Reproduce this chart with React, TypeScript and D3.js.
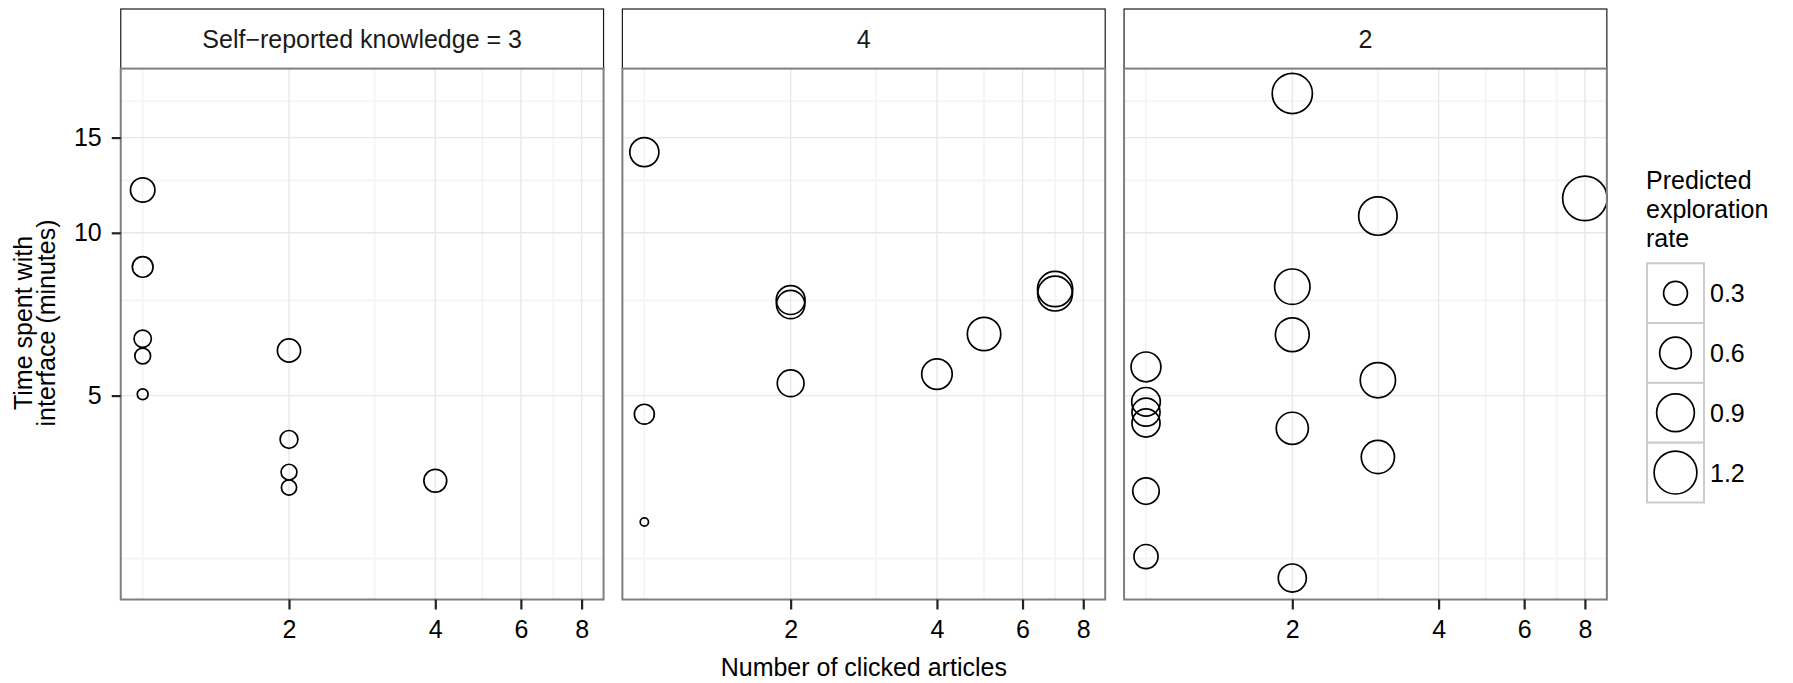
import React, { useEffect, useRef } from "react";
import * as d3 from "d3";

// facet labels (self-reported knowledge)
const facetLabels = ["Self\u2212reported knowledge = 3", "4", "2"];

// knowledge = 3
const clicksK3 = [1, 1, 1, 1, 1, 2, 2, 2, 2, 4];
const timeK3 = [12.0, 8.65, 6.37, 5.92, 5.03, 6.06, 4.15, 3.61, 3.38, 3.48];
const rateK3 = [0.32, 0.21, 0.13, 0.1, 0.03, 0.28, 0.14, 0.1, 0.09, 0.27];

// knowledge = 4
const clicksK4 = [1, 1, 1, 2, 2, 2, 4, 5, 7, 7];
const timeK4 = [14.1, 4.62, 2.92, 7.51, 7.37, 5.27, 5.48, 6.5, 7.87, 7.72];
const rateK4 = [0.49, 0.19, 0.01, 0.48, 0.46, 0.4, 0.55, 0.68, 0.77, 0.75];

// knowledge = 2
const clicksK2 = [2, 8, 3, 2, 2, 1, 1, 1, 1, 1, 1, 2, 2, 3, 3];
const timeK2 = [18.1, 11.58, 10.74, 7.95, 6.48, 5.65, 4.87, 4.66, 4.45, 3.33, 2.52, 4.35, 2.3, 5.34, 3.85];
const rateK2 = [1.04, 1.31, 0.94, 0.78, 0.7, 0.52, 0.47, 0.45, 0.45, 0.39, 0.31, 0.62, 0.45, 0.77, 0.67];

const xTicks = [2, 4, 6, 8];
const xMinor = [1, 3, 5, 7];
const yTicks = [5, 10, 15];
const yMinor = [2.5, 7.5, 12.5, 17.5];
const legendRates = [0.3, 0.6, 0.9, 1.2];
const legendTitle = ["Predicted", "exploration", "rate"];
const yTitle = ["Time spent with", "interface (minutes)"];

const FONT = "'Liberation Sans', Arial, Helvetica, sans-serif";

export default function App() {
  const ref = useRef<SVGSVGElement | null>(null);

  useEffect(() => {
    const width = 1793;
    const height = 683;
    const svg = d3.select(ref.current);
    svg.selectAll("*").remove();

    svg.append("rect").attr("width", width).attr("height", height).attr("fill", "white");

    const panelW = 482.8;
    const panelStep = 501.65;
    const panelLeft = 120.75;
    const panelTop = 68.6;
    const panelBottom = 599.5;
    const stripTop = 9;

    const x = d3.scaleLog()
      .domain([Math.pow(2, -0.15), Math.pow(2, 3.15)])
      .range([0, panelW]);
    const y = d3.scaleLog()
      .domain([2.099, 20.12])
      .range([panelBottom, panelTop]);
    const r = d3.scaleSqrt().domain([0, 1]).range([2.4, 19.75]);

    const facets = [
      { label: facetLabels[0], clicks: clicksK3, time: timeK3, rate: rateK3 },
      { label: facetLabels[1], clicks: clicksK4, time: timeK4, rate: rateK4 },
      { label: facetLabels[2], clicks: clicksK2, time: timeK2, rate: rateK2 }
    ];

    facets.forEach((f, i) => {
      const g = svg.append("g")
        .attr("transform", `translate(${panelLeft + i * panelStep},0)`);

      // strip
      g.append("rect")
        .attr("x", 0)
        .attr("y", stripTop)
        .attr("width", panelW)
        .attr("height", panelTop - stripTop)
        .attr("fill", "white")
        .attr("stroke", "#1a1a1a")
        .attr("stroke-width", 1.2);

      g.append("text")
        .attr("x", panelW / 2)
        .attr("y", 47.5)
        .attr("text-anchor", "middle")
        .attr("font-family", FONT)
        .attr("font-size", 25)
        .attr("fill", "#1a1a1a")
        .text(f.label);

      // grid
      g.append("rect")
        .attr("x", 0).attr("y", panelTop)
        .attr("width", panelW).attr("height", panelBottom - panelTop)
        .attr("fill", "white");

      g.selectAll("line.xminor").data(xMinor).join("line")
        .attr("x1", d => x(d)).attr("x2", d => x(d))
        .attr("y1", panelTop).attr("y2", panelBottom)
        .attr("stroke", "#f5f5f5").attr("stroke-width", 2);
      g.selectAll("line.yminor").data(yMinor).join("line")
        .attr("x1", 0).attr("x2", panelW)
        .attr("y1", d => y(d)).attr("y2", d => y(d))
        .attr("stroke", "#f5f5f5").attr("stroke-width", 2);
      g.selectAll("line.xmajor").data(xTicks).join("line")
        .attr("x1", d => x(d)).attr("x2", d => x(d))
        .attr("y1", panelTop).attr("y2", panelBottom)
        .attr("stroke", "#e8e8e8").attr("stroke-width", 1.4);
      g.selectAll("line.ymajor").data(yTicks).join("line")
        .attr("x1", 0).attr("x2", panelW)
        .attr("y1", d => y(d)).attr("y2", d => y(d))
        .attr("stroke", "#e8e8e8").attr("stroke-width", 1.4);

      // points
      g.selectAll("circle.pt").data(d3.range(f.clicks.length)).join("circle")
        .attr("cx", j => x(f.clicks[j]))
        .attr("cy", j => y(f.time[j]))
        .attr("r", j => r(f.rate[j]))
        .attr("fill", "none")
        .attr("stroke", "black")
        .attr("stroke-width", 1.7);

      // panel border
      g.append("rect")
        .attr("x", 0).attr("y", panelTop)
        .attr("width", panelW).attr("height", panelBottom - panelTop)
        .attr("fill", "none")
        .attr("stroke", "#7f7f7f")
        .attr("stroke-width", 2);

      // x axis
      const xAxis = g.append("g")
        .attr("transform", `translate(0,${panelBottom})`)
        .call(d3.axisBottom(x).tickValues(xTicks).tickFormat(d3.format("d")).tickSize(10).tickPadding(11));
      xAxis.select(".domain").remove();
      xAxis.selectAll("line").attr("stroke", "#222").attr("stroke-width", 2.2);
      xAxis.selectAll("text")
        .attr("font-family", FONT)
        .attr("font-size", 25)
        .attr("fill", "black");

      if (i === 0) {
        const yAxis = g.append("g")
          .call(d3.axisLeft(y).tickValues(yTicks).tickFormat(d3.format("d")).tickSize(9).tickPadding(10));
        yAxis.select(".domain").remove();
        yAxis.selectAll("line").attr("stroke", "#222").attr("stroke-width", 2.2);
        yAxis.selectAll("text")
          .attr("font-family", FONT)
          .attr("font-size", 25)
          .attr("fill", "black");
      }
    });

    // axis titles
    svg.append("text")
      .attr("x", (panelLeft + 2 * panelStep + panelW + panelLeft) / 2)
      .attr("y", 675.5)
      .attr("text-anchor", "middle")
      .attr("font-family", FONT)
      .attr("font-size", 25)
      .text("Number of clicked articles");

    const yt = svg.append("text")
      .attr("transform", "translate(0,323) rotate(-90)")
      .attr("text-anchor", "middle")
      .attr("font-family", FONT)
      .attr("font-size", 25);
    yTitle.forEach((line, k) => {
      yt.append("tspan").attr("x", 0).attr("y", 32 + k * 22.5).text(line);
    });

    // legend
    const lg = svg.append("g");
    const lt = lg.append("text")
      .attr("font-family", FONT)
      .attr("font-size", 25);
    legendTitle.forEach((line, k) => {
      lt.append("tspan").attr("x", 1646).attr("y", 189.3 + k * 28.7).text(line);
    });

    const keyX = 1647;
    const keyW = 57;
    const keyH = 59.8;
    const keyTop = 263.3;
    legendRates.forEach((v, k) => {
      const ky = keyTop + k * keyH;
      lg.append("rect")
        .attr("x", keyX).attr("y", ky)
        .attr("width", keyW).attr("height", keyH)
        .attr("fill", "white")
        .attr("stroke", "#cccccc")
        .attr("stroke-width", 2);
    });
    legendRates.forEach((v, k) => {
      const cy = keyTop + k * keyH + keyH / 2;
      lg.append("circle")
        .attr("cx", keyX + keyW / 2)
        .attr("cy", cy)
        .attr("r", r(v))
        .attr("fill", "none")
        .attr("stroke", "black")
        .attr("stroke-width", 1.7);
      lg.append("text")
        .attr("x", 1710)
        .attr("y", cy + 9)
        .attr("font-family", FONT)
        .attr("font-size", 25)
        .text(d3.format(".1f")(v));
    });
  }, []);

  return (
    <svg
      ref={ref}
      width={1793}
      height={683}
      style={{ position: "absolute", left: 0, top: 0 }}
    />
  );
}
